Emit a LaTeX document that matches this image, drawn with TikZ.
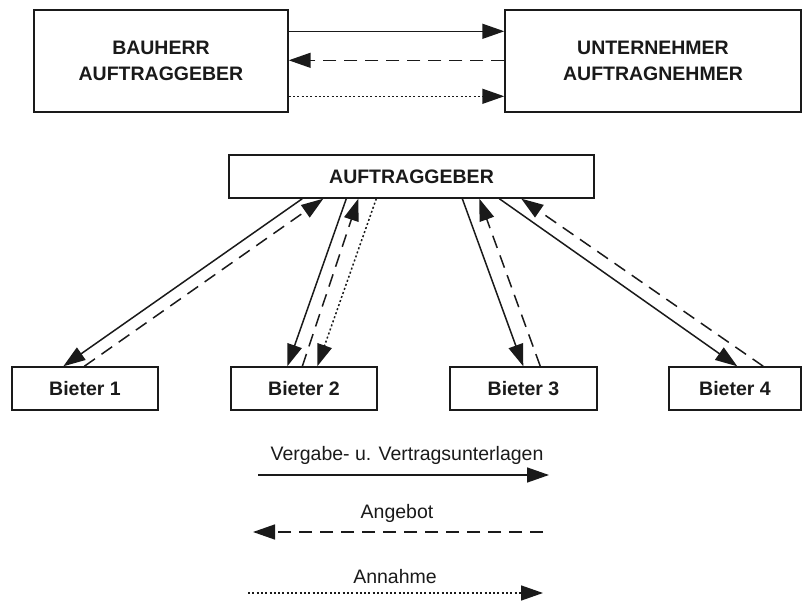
\documentclass[tikz,border=0pt]{standalone}
\usepackage{fontspec}
\setmainfont{Liberation Sans}
\usetikzlibrary{arrows.meta}
\definecolor{ink}{HTML}{1A1A1A}
\begin{document}
\begin{tikzpicture}[x=1pt,y=-1pt,
  font=\fontsize{19.5}{26}\selectfont,
  box/.style={draw=ink,line width=1.4pt,fill=white,inner sep=0pt,
              text=ink,font=\fontsize{19.5}{26}\selectfont\bfseries,align=center},
  flow/.style={draw=ink,line width=1.5pt,-{Triangle[length=22pt,width=15pt]}},
  solidflow/.style={flow},
  offerflow/.style={flow,dash pattern=on 13pt off 8pt},
  acceptflow/.style={flow,dash pattern=on 2pt off 2.3pt},
  lbl/.style={text=ink,inner sep=0pt}]
\useasboundingbox (0,0) rectangle (803,604);

% top: client and contractor
\node[box,minimum width=254pt,minimum height=102pt] (bh) at (161,61) {BAUHERR\\AUFTRAGGEBER};
\node[box,minimum width=296pt,minimum height=102pt] (un) at (653,61) {UNTERNEHMER\\AUFTRAGNEHMER};

\draw[solidflow]  ([yshift=-22pt]bh.north east) -- ([yshift=-22pt]un.north west);
\draw[offerflow]  ([yshift=-51pt]un.north west) -- ([yshift=-51pt]bh.north east);
\draw[acceptflow] ([yshift=-87pt]bh.north east) -- ([yshift=-87pt]un.north west);

% tendering: client and bidders
\node[box,minimum width=365pt,minimum height=43pt] (ag) at (411.5,176.5) {AUFTRAGGEBER};
\node[box,minimum width=146pt,minimum height=43pt] (b1) at (85,388.5) {Bieter 1};
\node[box,minimum width=146pt,minimum height=43pt] (b2) at (304,388.5) {Bieter 2};
\node[box,minimum width=147pt,minimum height=43pt] (b3) at (523.5,388.5) {Bieter 3};
\node[box,minimum width=132pt,minimum height=43pt] (b4) at (735,388.5) {Bieter 4};

\draw[solidflow] ([xshift=74pt]ag.south west) -- ([xshift=52pt]b1.north west);
\draw[offerflow] ([xshift=73pt]b1.north west) -- ([xshift=95pt]ag.south west);

\draw[solidflow]  ([xshift=118pt]ag.south west) -- ([xshift=57pt]b2.north west);
\draw[offerflow]  ([xshift=72pt]b2.north west) -- ([xshift=130pt]ag.south west);
\draw[acceptflow] ([xshift=148pt]ag.south west) -- ([xshift=87pt]b2.north west);

\draw[solidflow] ([xshift=234pt]ag.south west) -- ([xshift=74pt]b3.north west);
\draw[offerflow] ([xshift=91pt]b3.north west) -- ([xshift=251pt]ag.south west);

\draw[solidflow] ([xshift=271pt]ag.south west) -- ([xshift=69pt]b4.north west);
\draw[offerflow] ([xshift=95pt]b4.north west) -- ([xshift=293pt]ag.south west);

% legend
\node[lbl] (t1) at (407,455) {Vergabe- u. Vertragsunterlagen};
\coordinate (l1a) at (258,475);
\coordinate (l1b) at (549,475);
\draw[solidflow] (l1a) -- (l1b);

\node[lbl] (t2) at (397,513) {Angebot};
\coordinate (l2a) at (543,532);
\coordinate (l2b) at (253,532);
\draw[offerflow] (l2a) -- (l2b);

\node[lbl] (t3) at (395,577) {Annahme};
\coordinate (l3a) at (248,593);
\coordinate (l3b) at (543,593);
\draw[acceptflow] (l3a) -- (l3b);
\end{tikzpicture}
\end{document}
